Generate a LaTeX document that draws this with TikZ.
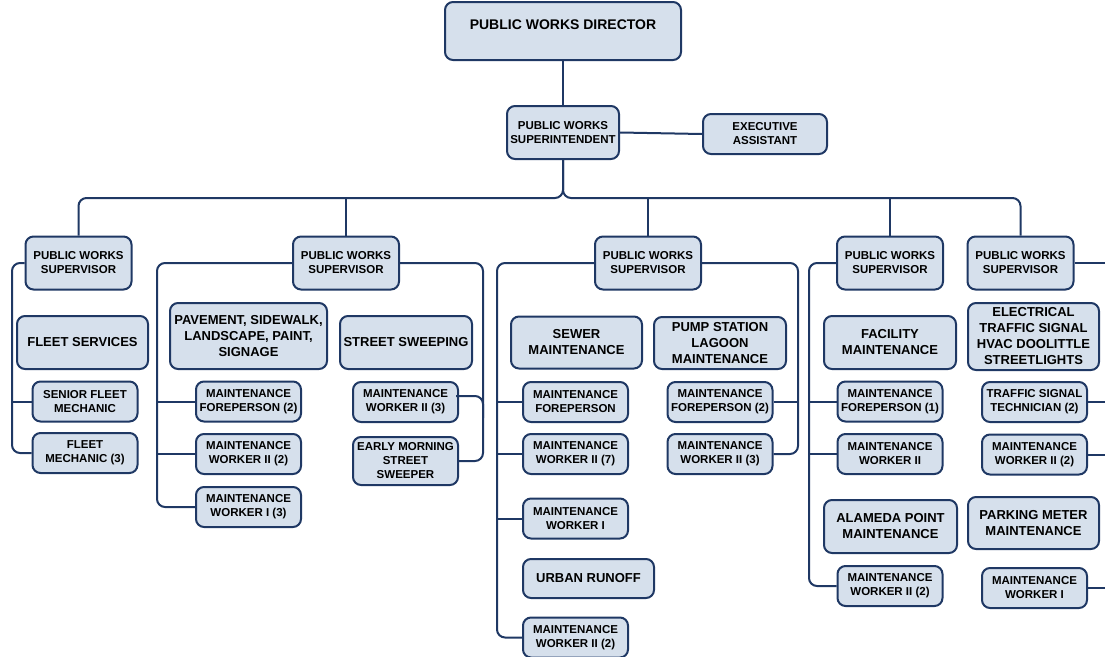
\documentclass[tikz,border=0pt]{standalone}
\usepackage{fontspec}
\setmainfont{Liberation Sans}
\usepackage{tikz}
\usetikzlibrary{calc,positioning}
\definecolor{navy}{HTML}{1F3864}
\definecolor{boxfill}{HTML}{D6E0EC}

\begin{document}
\begin{tikzpicture}[x=1pt,y=-1pt,
  unit/.style={draw=navy,fill=boxfill,line width=2pt,rounded corners=8pt,align=center,
    inner sep=1pt,text=black,font=\bfseries\fontsize{11.5}{14}\selectfont},
  small/.style={unit,minimum width=105pt,minimum height=40pt},
  chief/.style={unit,minimum width=106pt,minimum height=53pt},
  big/.style={unit,font=\bfseries\fontsize{13}{16}\selectfont},
  link/.style={draw=navy,line width=2pt,rounded corners=8pt}]
\useasboundingbox (0,0) rectangle (1105,656);
% top of the chart
\node[big,minimum width=236pt,minimum height=58pt,text height=10pt,text depth=14pt,
  font=\bfseries\fontsize{14}{17}\selectfont] (dir) at (563,31) {PUBLIC WORKS DIRECTOR};
\node[chief,minimum width=112pt] (supt) at (563,132.5) {PUBLIC WORKS\\SUPERINTENDENT};
\node[unit,minimum width=124pt,minimum height=40pt] (ea) at (765,134) {EXECUTIVE\\ASSISTANT};
\coordinate (bus) at (563,198);
\draw[link] (dir.south) -- (supt.north);
\draw[link] (supt.east) -- (ea.west);
% supervisors
\foreach \n/\x in {s1/78.5,s2/346,s3/648,s4/890,s5/1020.5}
  \node[chief] (\n) at (\x,263) {PUBLIC WORKS\\SUPERVISOR};
\draw[link] (supt.south) -- (bus) -| (s1.north);
\draw[link] (supt.south) -- (bus) -| (s5.north);
\foreach \n in {s2,s3,s4} \draw[link] (\n.north) -- (\n.north |- bus);
% fleet
\node[big,minimum width=131pt,minimum height=53pt] (fleet) at (82.5,342.5) {FLEET SERVICES};
\node[small] (sfm) at (85,401.5) {SENIOR FLEET\\MECHANIC};
\node[small] (fm) at (85,453) {FLEET\\MECHANIC (3)};
\coordinate (v1) at (12,0);
\draw[link] (s1.west) -| (v1 |- fm.west) -- (fm.west);
\draw[link] (sfm.west) -- (v1 |- sfm.west);
% pavement and street sweeping
\node[big,minimum width=157pt,minimum height=66pt] (pave) at (248.5,336) {PAVEMENT, SIDEWALK,\\LANDSCAPE, PAINT,\\SIGNAGE};
\node[small] (pmf) at (248.5,401.5) {MAINTENANCE\\FOREPERSON (2)};
\node[small] (pmw2) at (248.5,454) {MAINTENANCE\\WORKER II (2)};
\node[small] (pmw1) at (248.5,507) {MAINTENANCE\\WORKER I (3)};
\coordinate (v2) at (157,0);
\draw[link] (s2.west) -| (v2 |- pmw1.west) -- (pmw1.west);
\foreach \n in {pmf,pmw2} \draw[link] (\n.west) -- (v2 |- \n.west);
\node[big,minimum width=132pt,minimum height=53pt] (sweep) at (406,342.5) {STREET SWEEPING};
\node[small] (swmw) at (405.5,402) {MAINTENANCE\\WORKER II (3)};
\node[small,minimum height=48pt] (early) at (405.5,461) {EARLY MORNING\\STREET\\SWEEPER};
\coordinate (v2r) at (483,0);
\draw[link] (s2.east) -| (v2r |- early.east) -- (early.east);
\draw[link] ([xshift=-3pt,yshift=6pt]swmw.east) -| ($(v2r |- swmw.east)+(0,16)$);
% sewer and pump station
\node[big,minimum width=131pt,minimum height=52pt] (sewer) at (576.5,342.5) {SEWER\\MAINTENANCE};
\node[small] (smf) at (575.5,402) {MAINTENANCE\\FOREPERSON};
\node[small] (smw7) at (575.5,454) {MAINTENANCE\\WORKER II (7)};
\node[small] (smw1) at (575.5,518.5) {MAINTENANCE\\WORKER I};
\node[big,minimum width=131pt,minimum height=39pt] (runoff) at (588.5,578.5) {URBAN RUNOFF};
\node[small] (smw2) at (575.5,637.5) {MAINTENANCE\\WORKER II (2)};
\coordinate (v3) at (497,0);
\draw[link] (s3.west) -| (v3 |- smw2.west) -- (smw2.west);
\foreach \n in {smf,smw7,smw1} \draw[link] (\n.west) -- (v3 |- \n.west);
\node[big,minimum width=132pt,minimum height=52pt] (pump) at (720,343) {PUMP STATION\\LAGOON\\MAINTENANCE};
\node[small] (lmf) at (720,402) {MAINTENANCE\\FOREPERSON (2)};
\node[small] (lmw) at (720,454) {MAINTENANCE\\WORKER II (3)};
\coordinate (v3r) at (798,0);
\draw[link] (s3.east) -| (v3r |- lmw.east) -- (lmw.east);
\draw[link] (lmf.east) -- (v3r |- lmf.east);
% facility and alameda point
\node[big,minimum width=132pt,minimum height=53pt] (facil) at (890,342.5) {FACILITY\\MAINTENANCE};
\node[small] (fmf) at (890,401.5) {MAINTENANCE\\FOREPERSON (1)};
\node[small] (fmw) at (890,454) {MAINTENANCE\\WORKER II};
\node[big,minimum width=133pt,minimum height=53pt] (alam) at (890.5,526.5) {ALAMEDA POINT\\MAINTENANCE};
\node[small] (amw) at (890,586) {MAINTENANCE\\WORKER II (2)};
\coordinate (v4) at (809,0);
\draw[link] (s4.west) -| (v4 |- amw.west) -- (amw.west);
\foreach \n in {fmf,fmw} \draw[link] (\n.west) -- (v4 |- \n.west);
% electrical and parking
\node[big,minimum width=131pt,minimum height=67pt] (elec) at (1033.5,336.5) {ELECTRICAL\\TRAFFIC SIGNAL\\HVAC DOOLITTLE\\STREETLIGHTS};
\node[small] (tst) at (1034.5,402) {TRAFFIC SIGNAL\\TECHNICIAN (2)};
\node[small] (emw) at (1034.5,454.5) {MAINTENANCE\\WORKER II (2)};
\node[big,minimum width=131pt,minimum height=52pt] (park) at (1033.5,523) {PARKING METER\\MAINTENANCE};
\node[small] (pmw) at (1034.5,588) {MAINTENANCE\\WORKER I};
\coordinate (v5) at (1115,0);
\foreach \n in {s5,tst,emw,pmw} \draw[link] (\n.east) -- (v5 |- \n.east);
\end{tikzpicture}
\end{document}
